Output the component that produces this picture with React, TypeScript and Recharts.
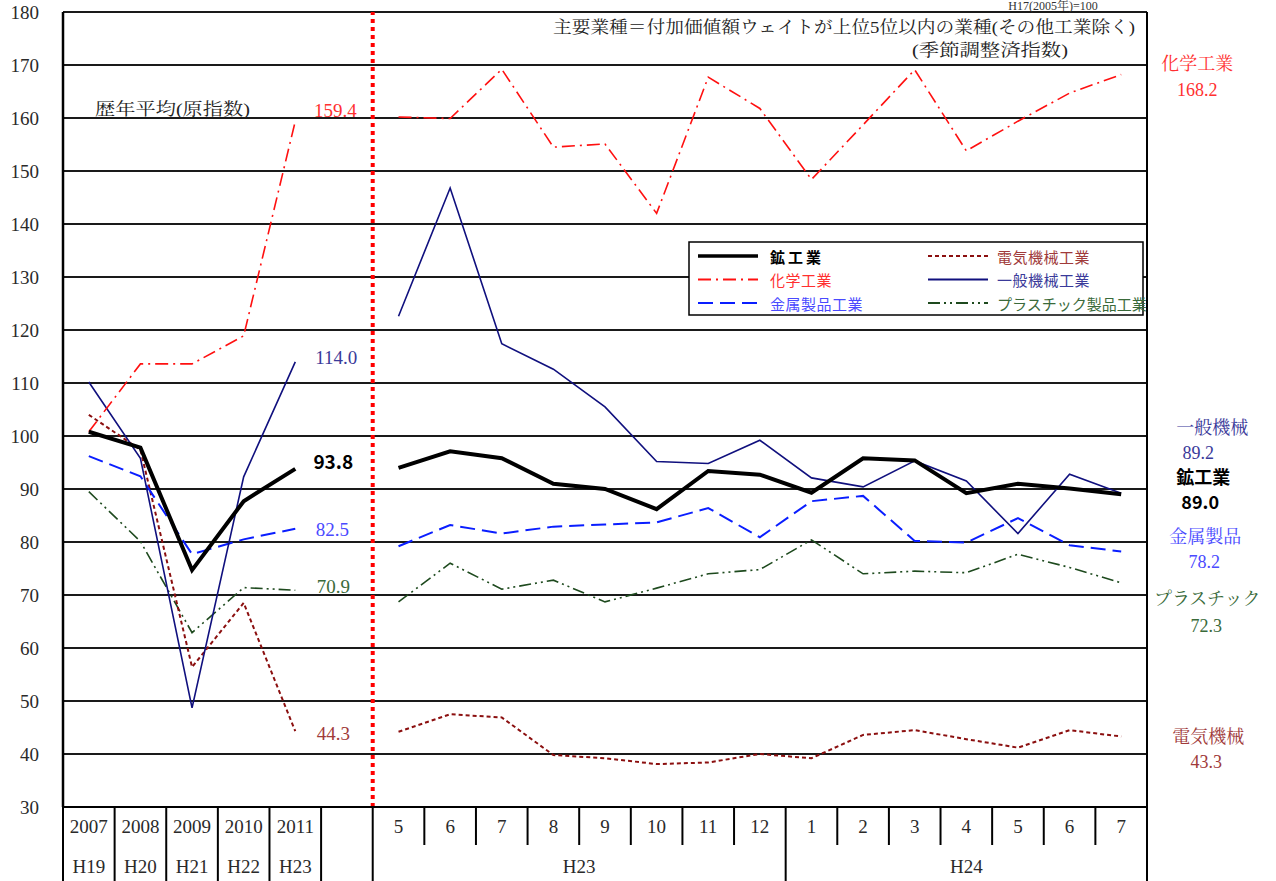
import React from 'react';
import {
  LineChart,
  Line,
  XAxis,
  YAxis,
  CartesianGrid,
  ReferenceLine,
  Customized,
} from 'recharts';

// categories: yearly averages, a blank spacer, then monthly figures
const periods = ['2007', '2008', '2009', '2010', '2011', '', '5', '6', '7', '8', '9', '10', '11', '12', '1', '2', '3', '4', '5', '6', '7'];
const eras = ['H19', 'H20', 'H21', 'H22', 'H23', '', 'H23', 'H23', 'H23', 'H23', 'H23', 'H23', 'H23', 'H23', 'H24', 'H24', 'H24', 'H24', 'H24', 'H24', 'H24'];
const yTicks = [30, 40, 50, 60, 70, 80, 90, 100, 110, 120, 130, 140, 150, 160, 170, 180];

const mining = [100.8, 97.8, 74.7, 87.7, 93.8, null, 94.0, 97.1, 95.8, 91.0, 90.0, 86.2, 93.4, 92.7, 89.3, 95.8, 95.4, 89.2, 91.0, 90.1, 89.0];
const chemical = [100.8, 113.6, 113.6, 118.9, 159.4, null, 160.2, 159.9, 169.2, 154.5, 155.1, 142.0, 167.7, 161.8, 148.4, 158.7, 169.1, 153.8, 159.4, 164.7, 168.2];
const metal = [96.2, 92.4, 77.7, 80.5, 82.5, null, 79.2, 83.2, 81.6, 82.9, 83.3, 83.7, 86.4, 80.9, 87.7, 88.7, 80.2, 79.9, 84.5, 79.4, 78.2];
const electrical = [104.0, 97.4, 56.4, 68.5, 44.3, null, 44.2, 47.5, 46.9, 39.8, 39.2, 38.1, 38.4, 40.0, 39.2, 43.6, 44.5, 42.8, 41.2, 44.5, 43.3];
const machinery = [110.2, 95.8, 48.7, 92.3, 114.0, null, 122.6, 146.8, 117.4, 112.6, 105.5, 95.2, 94.8, 99.2, 92.1, 90.4, 95.3, 91.5, 81.6, 92.8, 89.2];
const plastic = [89.5, 80.1, 62.9, 71.4, 70.9, null, 68.7, 76.0, 71.1, 72.8, 68.7, 71.3, 74.0, 74.8, 80.4, 74.0, 74.5, 74.2, 77.7, 75.2, 72.3];

const data = periods.map((p, i) => ({
  x: i + 0.5,
  period: p,
  era: eras[i],
  mining: mining[i],
  chemical: chemical[i],
  metal: metal[i],
  electrical: electrical[i],
  machinery: machinery[i],
  plastic: plastic[i],
}));

const W = 1276;
const H = 881;
const MARGIN = { top: 12, right: 129, bottom: 0, left: 0 };
const Y_AXIS_W = 63;
const X_AXIS_H = 74;
const BAND = (W - MARGIN.left - MARGIN.right - Y_AXIS_W) / periods.length;

const SERIF = '"Liberation Serif", "Noto Serif CJK JP", "Noto Sans CJK JP", serif';
const GOTHIC = '"Noto Sans CJK JP", "Noto Sans", sans-serif';
const LAST = periods.length - 1;

const series = [
  {
    key: 'plastic', legend: 'プラスチック製品工業', color: '#1e4a1e', width: 1.6, dash: '12 4 2 4 2 4',
    txt: '#3a6a3a', aDx: 38, aDy: -4, end: 'プラスチック', nDx: 86, nDy: 16, vDx: 85, vDy: 43, bold: false,
  },
  {
    key: 'electrical', legend: '電気機械工業', color: '#8b0f0f', width: 2, dash: '4 3',
    txt: '#a03a3a', aDx: 38, aDy: 2, end: '電気機械', nDx: 87, nDy: 0, vDx: 85, vDy: 25, bold: false,
  },
  {
    key: 'metal', legend: '金属製品工業', color: '#0a1eff', width: 2, dash: '15 7',
    txt: '#4a4aff', aDx: 37, aDy: 1, end: '金属製品', nDx: 84, nDy: -15, vDx: 83, vDy: 10, bold: false,
  },
  {
    key: 'machinery', legend: '一般機械工業', color: '#10107e', width: 1.6, dash: undefined,
    txt: '#3a3a9a', aDx: 41, aDy: -4, end: '一般機械', nDx: 91, nDy: -65, vDx: 77, vDy: -40, bold: false,
  },
  {
    key: 'chemical', legend: '化学工業', color: '#ff1010', width: 1.6, dash: '13 5 2 5',
    txt: '#ff3030', aDx: 40, aDy: -11, end: '化学工業', nDx: 76, nDy: -11, vDx: 76, vDy: 15, bold: false,
  },
  {
    key: 'mining', legend: '鉱工業', color: '#000000', width: 4, dash: undefined,
    txt: '#000000', aDx: 38, aDy: -8, end: '鉱工業', nDx: 82, nDy: -18, vDx: 79, vDy: 7, bold: true,
  },
];

type S = (typeof series)[number];

const makeDot = (s: S) => (p: any) => {
  const { cx, cy, index, value } = p;
  const key = `${s.key}-${index}`;
  if (cy == null || value == null || Number.isNaN(cy)) return <g key={key} />;
  const v = Number(value).toFixed(1);
  const weight = s.bold ? 'bold' : 'normal';
  const fam = s.bold ? GOTHIC : SERIF;
  if (index === 4) {
    return (
      <text key={key} x={cx + s.aDx} y={cy + s.aDy} textAnchor="middle" dominantBaseline="central"
        fontSize={19} fontFamily={fam} fontWeight={weight} fill={s.txt}>
        {v}
      </text>
    );
  }
  if (index === LAST) {
    return (
      <g key={key}>
        <text x={cx + s.nDx} y={cy + s.nDy} textAnchor="middle" dominantBaseline="central"
          fontSize={18} fontFamily={fam} fontWeight={weight} fill={s.txt}>
          {s.end}
        </text>
        <text x={cx + s.vDx} y={cy + s.vDy} textAnchor="middle" dominantBaseline="central"
          fontSize={18} fontFamily={fam} fontWeight={weight} fill={s.txt}>
          {v}
        </text>
      </g>
    );
  }
  return <g key={key} />;
};

// boundaries that run through both rows of the axis table
const FULL = new Set([0, 1, 2, 3, 4, 5, 6, 14, 21]);

const XTick = (props: any) => {
  const { x, y, payload } = props;
  const i = Math.round(payload.value - 0.5);
  const half = BAND / 2;
  const lineFor = (k: number, lx: number) => (
    <line key={`b${k}`} x1={lx} x2={lx} y1={y} y2={FULL.has(k) ? y + X_AXIS_H : y + 38} stroke="#000" strokeWidth={2} />
  );
  const els: React.ReactNode[] = [];
  if (i === 0) els.push(lineFor(0, x - half));
  els.push(lineFor(i + 1, x + half));
  els.push(
    <text key="p" x={x} y={y + 19} textAnchor="middle" dominantBaseline="central" fontSize={19} fontFamily={SERIF} fill="#2a2a2a">
      {periods[i]}
    </text>
  );
  const era = eras[i];
  if (era && (i === 0 || eras[i - 1] !== era || i === 6)) {
    let n = 1;
    while (i + n < eras.length && eras[i + n] === era && !(i < 5)) n++;
    const cxEra = x - half + (n * BAND) / 2;
    els.push(
      <text key="e" x={cxEra} y={y + 59} textAnchor="middle" dominantBaseline="central" fontSize={19} fontFamily={SERIF} fill="#2a2a2a">
        {era}
      </text>
    );
  }
  return <g>{els}</g>;
};

const legendRows = [
  [series[5], series[1]],
  [series[4], series[3]],
  [series[2], series[0]],
];

const Overlay = () => (
  <g>
    <text x={1053} y={10} textAnchor="middle" fontSize={12} fontFamily={SERIF} fill="#333">H17(2005年)=100</text>
    <text x={553} y={33} textLength={582} lengthAdjust="spacingAndGlyphs" fontSize={17.5} fontFamily={SERIF} fill="#222">
      主要業種＝付加価値額ウェイトが上位5位以内の業種(その他工業除く)
    </text>
    <text x={912} y={56} textLength={156} lengthAdjust="spacingAndGlyphs" fontSize={17.5} fontFamily={SERIF} fill="#222">
      (季節調整済指数)
    </text>
    <text x={95} y={115} textLength={155} lengthAdjust="spacingAndGlyphs" fontSize={17.5} fontFamily={SERIF} fill="#222">
      歴年平均(原指数)
    </text>
    <rect x={689} y={242} width={454} height={73} fill="#fff" stroke="#000" strokeWidth={1.5} />
    {legendRows.map((row, r) =>
      row.map((s, c) => {
        const ly = 256 + r * 23.5;
        const lx = c === 0 ? 698 : 928;
        const tx = c === 0 ? 770 : 997;
        return (
          <g key={s.key}>
            <line x1={lx} x2={lx + 60} y1={ly} y2={ly} stroke={s.color} strokeWidth={s.key === 'mining' ? 3.5 : 2}
              strokeDasharray={s.dash} />
            <text x={tx} y={ly} dominantBaseline="central" fontSize={15} fontFamily={GOTHIC}
              fontWeight={s.bold ? 'bold' : 'normal'} letterSpacing={s.bold ? 3 : s.key === 'plastic' ? 0 : 0.5} fill={s.txt}>
              {s.legend}
            </text>
          </g>
        );
      })
    )}
  </g>
);

export default function App() {
  return (
    <div style={{ position: 'absolute', left: 0, top: 0, width: W, height: H, background: '#fff' }}>
      <LineChart width={W} height={H} data={data} margin={MARGIN}>
        <CartesianGrid vertical={false} stroke="#1a1a1a" strokeWidth={2} />
        <XAxis
          type="number"
          dataKey="x"
          domain={[0, periods.length]}
          ticks={data.map((d) => d.x)}
          interval={0}
          height={X_AXIS_H}
          tickLine={false}
          tickSize={0}
          tickMargin={0}
          axisLine={{ stroke: '#000', strokeWidth: 2 }}
          tick={<XTick />}
        />
        <YAxis
          domain={[30, 180]}
          ticks={yTicks}
          interval={0}
          width={Y_AXIS_W}
          tickLine={false}
          tickSize={0}
          tickMargin={24}
          axisLine={{ stroke: '#000', strokeWidth: 2.5 }}
          tick={{ fontSize: 19, fontFamily: SERIF, fill: '#2a2a2a' }}
        />
        <ReferenceLine x={periods.length} stroke="#000" strokeWidth={2} />
        {series.map((s) => (
          <Line
            key={s.key}
            type="linear"
            dataKey={s.key}
            stroke={s.color}
            strokeWidth={s.width}
            strokeDasharray={s.dash}
            dot={makeDot(s)}
            activeDot={false}
            isAnimationActive={false}
          />
        ))}
        <ReferenceLine x={6} stroke="#ff0000" strokeWidth={4} strokeDasharray="4 4" />
        <Customized component={Overlay} />
      </LineChart>
    </div>
  );
}
